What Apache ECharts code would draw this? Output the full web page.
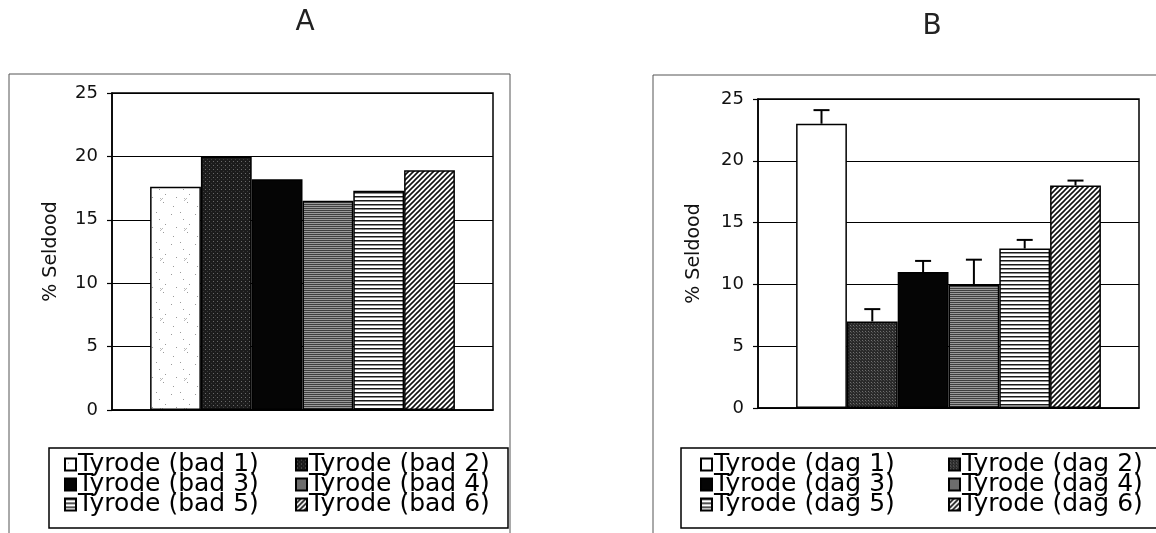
<!DOCTYPE html>
<html>
<head>
<meta charset="utf-8">
<script src="https://cdn.jsdelivr.net/npm/echarts@6/dist/echarts.min.js"></script>
<style>
html,body{margin:0;padding:0;background:#fff;}
#chart{width:1156px;height:533px;}
</style>
</head>
<body>
<div id="chart"></div>
<script>
// ---- data ----
const seriesNamesA = ['Tyrode (bad 1)','Tyrode (bad 2)','Tyrode (bad 3)','Tyrode (bad 4)','Tyrode (bad 5)','Tyrode (bad 6)'];
const valuesA = [17.6, 20.0, 18.2, 16.5, 17.3, 18.9];
const seriesNamesB = ['Tyrode (dag 1)','Tyrode (dag 2)','Tyrode (dag 3)','Tyrode (dag 4)','Tyrode (dag 5)','Tyrode (dag 6)'];
const valuesB = [23.0, 7.0, 11.0, 10.0, 12.9, 18.0];
const errorsB = [1.1, 1.0, 0.9, 2.0, 0.7, 0.4];
const panelTitles = ['A', 'B'];
const yAxisName = '% Seldood';
const yMin = 0, yMax = 25, yInterval = 5;

// ---- patterns ----
function tile(w, h, draw) {
  const c = document.createElement('canvas');
  c.width = w; c.height = h;
  const ctx = c.getContext('2d');
  draw(ctx, w, h);
  return { image: c, repeat: 'repeat' };
}
function px(ctx, x, y, col) { ctx.fillStyle = col; ctx.fillRect(x, y, 1, 1); }

const patSparseDots = tile(24, 30, (ctx, w, h) => {
  ctx.fillStyle = '#ffffff'; ctx.fillRect(0, 0, w, h);
  [[3,4],[15,9],[8,17],[19,22],[5,26],[12,2],[21,14]].forEach(p => px(ctx, p[0], p[1], '#9a9a9a'));
  [[16,18],[17,19],[16,20],[18,18]].forEach(p => px(ctx, p[0], p[1], '#bbbbbb'));
});
const patWhite = '#ffffff';
const patDarkDotsA = tile(4, 4, (ctx, w, h) => {
  ctx.fillStyle = '#1c1c1c'; ctx.fillRect(0, 0, w, h);
  px(ctx, 1, 1, '#6a6a6a'); px(ctx, 3, 3, '#3a3a3a');
});
const patDarkGridB = tile(3, 3, (ctx, w, h) => {
  ctx.fillStyle = '#2a2a2a'; ctx.fillRect(0, 0, w, h);
  px(ctx, 1, 1, '#6e6e6e'); px(ctx, 2, 2, '#4a4a4a');
});
const patSolid = '#050505';
const patGrayLines = tile(4, 2, (ctx, w, h) => {
  ctx.fillStyle = '#404040'; ctx.fillRect(0, 0, w, 1);
  ctx.fillStyle = '#9a9a9a'; ctx.fillRect(0, 1, w, 1);
});
const patLightLines = tile(4, 4, (ctx, w, h) => {
  ctx.fillStyle = '#ffffff'; ctx.fillRect(0, 0, w, h);
  ctx.fillStyle = '#1a1a1a'; ctx.fillRect(0, 0, w, 1);
  ctx.fillStyle = '#8a8a8a'; ctx.fillRect(0, 1, w, 1);
});
const patDiag = tile(5, 5, (ctx, w, h) => {
  ctx.fillStyle = '#ffffff'; ctx.fillRect(0, 0, w, h);
  ctx.strokeStyle = '#111111'; ctx.lineWidth = 1.6;
  ctx.beginPath();
  ctx.moveTo(-1, h + 1); ctx.lineTo(w + 1, -1);
  ctx.moveTo(-1, 1); ctx.lineTo(1, -1);
  ctx.moveTo(w - 1, h + 1); ctx.lineTo(w + 1, h - 1);
  ctx.stroke();
});
const fillsA = [patSparseDots, patDarkDotsA, patSolid, patGrayLines, patLightLines, patDiag];
const fillsB = [patWhite, patDarkGridB, patSolid, patGrayLines, patLightLines, patDiag];

const FONT = '"DejaVu Sans", "Liberation Sans", Arial, sans-serif';

function makeY(idx, gap) {
  return {
    type: 'value', gridIndex: idx, min: yMin, max: yMax, interval: yInterval,
    name: yAxisName, nameLocation: 'middle', nameRotate: 90, nameGap: gap,
    nameTextStyle: { fontFamily: FONT, fontSize: 19, color: '#111' },
    axisLine: { show: true, lineStyle: { color: '#000', width: 1.5 } },
    axisTick: { show: true, length: 5, lineStyle: { color: '#000', width: 1.2 } },
    axisLabel: { fontFamily: FONT, fontSize: 18, color: '#111', margin: 14 },
    splitLine: { show: true, lineStyle: { color: '#000', width: 1.2 } }
  };
}
function makeX(idx) {
  return {
    type: 'category', gridIndex: idx, data: [''],
    axisLine: { show: true, lineStyle: { color: '#000', width: 1.5 } },
    axisTick: { show: false }, axisLabel: { show: false }, splitLine: { show: false }
  };
}
function barSeries(names, values, fills, idx) {
  return names.map((n, i) => ({
    type: 'bar', name: n, xAxisIndex: idx, yAxisIndex: idx,
    data: [values[i]], barGap: '0%', barCategoryGap: '20%',
    itemStyle: { color: fills[i], borderColor: '#000', borderWidth: 1.5 },
    emphasis: { disabled: true }, animation: false
  }));
}
function legendCol(names, left) {
  return {
    orient: 'vertical', left: left, top: 452, padding: 0,
    itemWidth: 11, itemHeight: 12, itemGap: -5, selectedMode: false,
    icon: 'rect', data: names,
    textStyle: { fontFamily: FONT, fontSize: 25, color: '#000', padding: [0, 0, 0, -3] }
  };
}

const series = barSeries(seriesNamesA, valuesA, fillsA, 0)
  .concat(barSeries(seriesNamesB, valuesB, fillsB, 1));
series.push({
  type: 'custom', name: 'errB', xAxisIndex: 1, yAxisIndex: 1, z: 5, animation: false,
  data: valuesB.map((v, i) => [0, v, v + errorsB[i], i]),
  renderItem: function (params, api) {
    const base = api.coord([api.value(0), api.value(1)]);
    const top = api.coord([api.value(0), api.value(2)]);
    const band = api.size([1, 0])[0];
    const groupW = band * 0.8;
    const barW = groupW / 6;
    const k = api.value(3);
    const cx = base[0] - groupW / 2 + barW * (k + 0.5);
    const st = { stroke: '#000', lineWidth: 2 };
    return {
      type: 'group', children: [
        { type: 'line', shape: { x1: cx, y1: base[1], x2: cx, y2: top[1] }, style: st },
        { type: 'line', shape: { x1: cx - 8, y1: top[1], x2: cx + 8, y2: top[1] }, style: st }
      ]
    };
  }
});

const chart = echarts.init(document.getElementById('chart'), null, { renderer: 'canvas' });
chart.setOption({
  backgroundColor: '#ffffff',
  animation: false,
  grid: [
    { left: 112, right: 1156 - 493, top: 93, bottom: 533 - 410, show: true, borderColor: '#000', borderWidth: 1.5, backgroundColor: '#fff' },
    { left: 758, right: 1156 - 1139, top: 99, bottom: 533 - 408, show: true, borderColor: '#000', borderWidth: 1.5, backgroundColor: '#fff' }
  ],
  xAxis: [makeX(0), makeX(1)],
  yAxis: [makeY(0, 51), makeY(1, 54)],
  legend: [
    legendCol([seriesNamesA[0], seriesNamesA[2], seriesNamesA[4]], 64),
    legendCol([seriesNamesA[1], seriesNamesA[3], seriesNamesA[5]], 295),
    legendCol([seriesNamesB[0], seriesNamesB[2], seriesNamesB[4]], 700),
    legendCol([seriesNamesB[1], seriesNamesB[3], seriesNamesB[5]], 948)
  ],
  graphic: [
    { type: 'rect', z: -10, shape: { x: 9, y: 74, width: 501, height: 480 }, style: { fill: null, stroke: '#555', lineWidth: 1 } },
    { type: 'rect', z: -10, shape: { x: 653, y: 75, width: 520, height: 480 }, style: { fill: null, stroke: '#555', lineWidth: 1 } },
    { type: 'rect', z: -5, shape: { x: 49, y: 448, width: 459, height: 80 }, style: { fill: '#fff', stroke: '#000', lineWidth: 1.5 } },
    { type: 'rect', z: -5, shape: { x: 681, y: 448, width: 490, height: 80 }, style: { fill: '#fff', stroke: '#000', lineWidth: 1.5 } },
    { type: 'text', style: { text: panelTitles[0], x: 305, y: 23, align: 'center', verticalAlign: 'middle', font: '28px ' + FONT, fill: '#222' } },
    { type: 'text', style: { text: panelTitles[1], x: 932, y: 27, align: 'center', verticalAlign: 'middle', font: '28px ' + FONT, fill: '#222' } }
  ],
  series: series
});
</script>
</body>
</html>
